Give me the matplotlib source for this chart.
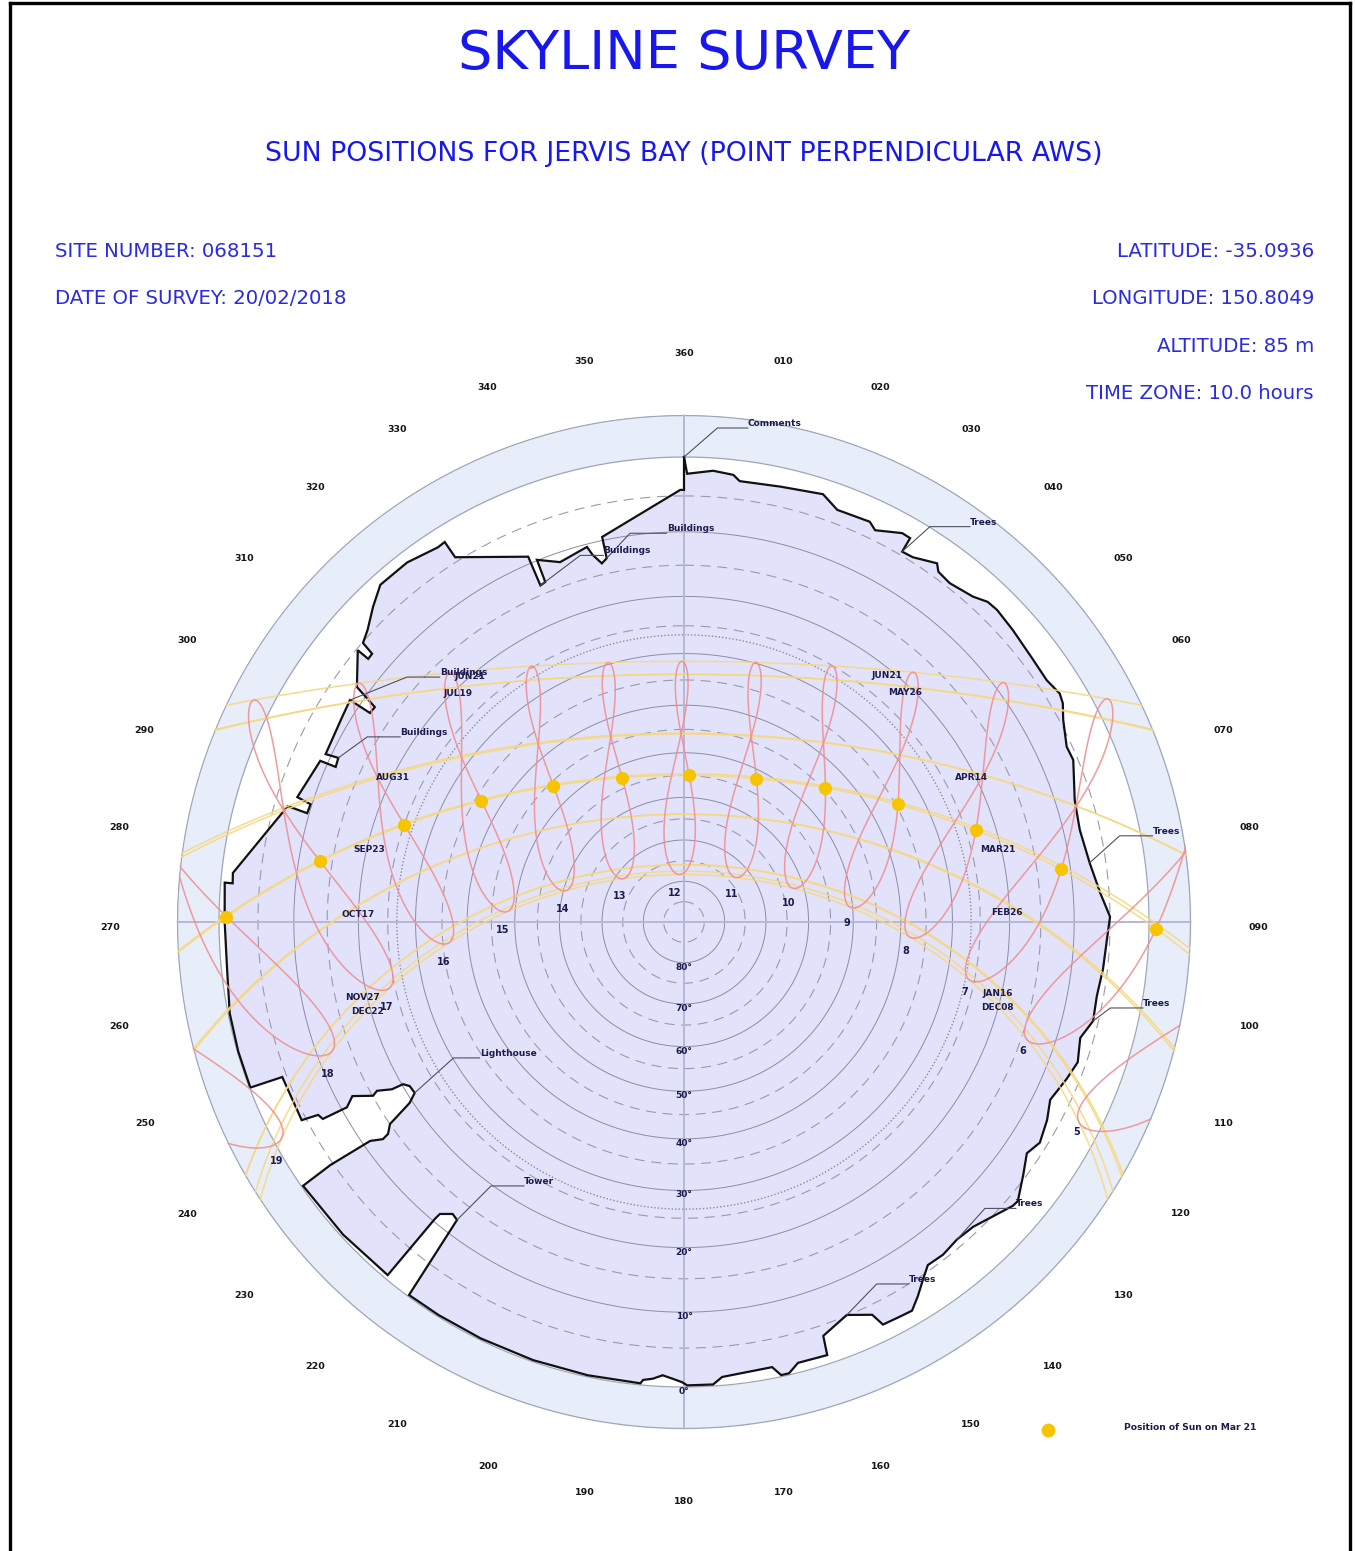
import numpy as np
import matplotlib
matplotlib.use("Agg")
import matplotlib.pyplot as plt
from matplotlib.lines import Line2D

# ---------------- data ----------------
SITE_NUMBER = "068151"
SURVEY_DATE = "20/02/2018"
LATITUDE = -35.0936
LONGITUDE = 150.8049
ALTITUDE_M = 85
TIME_ZONE = 10.0

ANALEMMA_HOURS = list(range(5, 20))
DOT_DAY = 80                      # Mar 21 (day of year)
DOT_HOURS = list(range(6, 19))

PATH_LABELS = ["JUN21", "JUL19", "AUG31", "SEP23", "OCT17", "NOV27", "DEC22",
               "MAY26", "APR14", "MAR21", "FEB26", "JAN16", "DEC08"]
PATH_DAYS = [172, 200, 243, 266, 290, 331, 356, 146, 104, 80, 57, 16, 342]

# skyline survey: azimuth (deg) / elevation (deg)
SKY_AZ = [0.0, 0.4, 3.7, 6.3, 7.2, 12.5, 18.0, 20.4, 24.9, 26.0, 29.3, 30.5, 30.5, 32.1,
          35.2, 36.0, 38.1, 41.6, 43.5, 45.1, 48.4, 53.1, 56.3, 58.7, 60.0, 61.9, 65.4,
          67.4, 72.7, 76.9, 81.7, 86.0, 89.3, 91.6, 96.4, 100.2, 103.6, 106.3, 109.6,
          112.3, 115.9, 118.6, 121.8, 124.0, 126.7, 129.9, 130.8, 136.5, 139.3, 142.1,
          144.6, 146.2, 148.0, 149.6, 151.3, 153.7, 154.4, 157.5, 161.4, 161.7, 165.5,
          166.9, 167.9, 168.8, 175.2, 176.4, 179.6, 180.25, 181.4, 182.7, 183.9, 185.1,
          185.4, 192.0, 199.0, 206.0, 212.0, 216.4, 217.3, 218.4, 219.9, 220.0, 220.0,
          227.5, 235.3, 235.5, 235.1, 234.2, 234.4, 235.5, 236.6, 237.6, 239.1, 240.0,
          240.2, 241.2, 240.8, 242.3, 241.2, 241.4, 242.2, 242.6, 248.9, 249.1, 253.8,
          258.6, 264.1, 270.1, 274.9, 274.9, 276.2, 286.3, 286.1, 287.5, 287.9, 293.9,
          294.0, 295.4, 295.1, 300.9, 303.6, 303.65, 304.8, 305.7, 309.8, 309.8, 310.7,
          311.0, 312.7, 315.4, 318.0, 322.4, 326.7, 327.8, 327.9, 336.9, 336.9, 337.8,
          337.9, 341.0, 345.5, 346.0, 347.1, 348.0, 348.0, 359.5, 360.0, 360.0]
SKY_EL = [0.0, 2.1, 1.6, 1.9, 2.6, 2.4, 1.9, 3.2, 3.0, 3.7, 2.4, 2.45, 4.5, 4.4,
          3.3, 4.1, 4.4, 3.8, 3.0, 2.9, 3.2, 3.6, 3.7, 3.2, 3.5, 4.5, 5.7,
          5.6, 7.3, 7.7, 7.2, 6.2, 5.0, 5.3, 5.6, 5.9, 5.7, 6.8, 6.1,
          6.7, 7.6, 6.7, 6.0, 6.7, 5.4, 3.8, 3.9, 5.8, 6.0, 5.6,
          5.7, 4.5, 3.0, 1.8, 1.9, 2.0, 3.75, 5.1, 3.6, 1.1, 1.2,
          0.2, 0.2, 1.4, 1.05, 0.2, 0.2, 0.6, 1.0, 1.4, 0.9, 0.65,
          0.2, 0.2, 0.2, 0.2, 0.2, 0.2, 12.3, 12.6, 11.4, 10.4, 0.5,
          0.3, 0.2, 4.6, 11.1, 12.8, 13.9, 15.0, 19.5, 21.1, 21.0, 20.2,
          18.2, 16.0, 15.1, 12.3, 10.8, 7.0, 6.7, 4.4, 4.4, 0.1, 0.1,
          0.2, 0.7, 0.7, 0.5, 1.5, 1.4, 6.8, 9.7, 9.8, 7.7, 8.9,
          11.3, 11.1, 9.2, 8.8, 8.45, 11.9, 12.0, 8.2, 5.2, 7.05, 7.0,
          5.1, 4.4, 2.8, 1.4, 1.4, 2.1, 2.0, 4.4, 9.0, 13.6, 13.4,
          9.9, 11.4, 10.4, 11.7, 13.3, 12.7, 9.5, 4.2, 4.2, 0.0]

OBSTRUCTION_NAMES = ["Comments", "Buildings", "Buildings", "Buildings", "Buildings",
                     "Trees", "Trees", "Trees", "Trees", "Trees", "Lighthouse", "Tower"]
OBSTRUCTION_AZ = [0.0, 348.0, 336.9, 303.6, 295.4, 30.5, 81.7, 103.6, 139.3, 157.5, 237.6, 217.3]
OBSTRUCTION_EL = [0.0, 12.7, 13.6, 8.45, 11.1, 4.5, 7.2, 5.7, 6.0, 5.1, 21.1, 12.3]

ELEV_SOLID = [0, 10, 20, 30, 40, 50, 60, 70, 80]
ELEV_DASHED = [5, 15, 25, 35, 45, 55, 65, 75, 85]
ELEV_DOTTED = [26.6]
ELEV_LABELS = ["0°", "10°", "20°", "30°", "40°", "50°", "60°", "70°", "80°"]
AZ_TICKS = list(range(0, 360, 10))
AZ_TICK_LABELS = ["360"] + [f"{a:03d}" for a in range(10, 360, 10)]

# ---------------- layout (pixel positions of text) ----------------
W, H = 1355, 1551
CX, CY = 684, 922
R_PX = 465.0
LEADER_OFFSETS = [(64, 29), (60, 25), (63, 30), (90, 23), (62, 21), (68, 25),
                  (63, 27), (50, 13), (59, 31), (62, 31), (65, 35), (67, 34)]
LEADER_ANGLES = [41, 47, 37, 22, 36, 42, 42, 37, 48, 46, 42, 45]
HOUR_TEXT = ["5", "6", "7", "8", "9", "10", "11", "12", "13", "14", "15", "16", "17", "18", "19"]
HOUR_POS = [(1077, 1132), (1023, 1051), (965, 992), (906, 951), (847, 923), (789, 903),
            (732, 894), (675, 893), (620, 896), (563, 909), (503, 930), (444, 962),
            (387, 1007), (328, 1074), (277, 1161)]
DATE_POS = [(470, 677), (458, 693), (393, 778), (369, 849), (358, 915), (363, 998),
            (367, 1011), (905, 692), (972, 778), (998, 849), (1007, 913), (998, 994),
            (997, 1007)]
JUN21_RIGHT = (887, 676)


def fxy(px, py):
    return px / W, 1 - py / H


def rproj(el):
    return np.tan(np.radians((90.0 - np.asarray(el, dtype=float)) / 2.0))


def sun_position(day, hour):
    g = 2 * np.pi / 365.0 * (day - 1 + (hour - 12) / 24.0)
    eqt = 229.18 * (0.000075 + 0.001868 * np.cos(g) - 0.032077 * np.sin(g)
                    - 0.014615 * np.cos(2 * g) - 0.040849 * np.sin(2 * g))
    dec = (0.006918 - 0.399912 * np.cos(g) + 0.070257 * np.sin(g)
           - 0.006758 * np.cos(2 * g) + 0.000907 * np.sin(2 * g)
           - 0.002697 * np.cos(3 * g) + 0.00148 * np.sin(3 * g))
    tst = hour * 60 + eqt + 4 * LONGITUDE - 60 * TIME_ZONE
    ha = np.radians(tst / 4.0 - 180.0)
    lat = np.radians(LATITUDE)
    sin_el = np.sin(lat) * np.sin(dec) + np.cos(lat) * np.cos(dec) * np.cos(ha)
    el = np.degrees(np.arcsin(np.clip(sin_el, -1, 1)))
    az = np.degrees(np.arctan2(np.sin(ha), np.cos(ha) * np.sin(lat) - np.tan(dec) * np.cos(lat))) + 180.0
    return np.radians(az % 360.0), el


RMAX = float(rproj(-5.0))

fig = plt.figure(figsize=(W / 100, H / 100), dpi=100)
fig.patch.set_facecolor("white")
rad_px = RMAX * R_PX
ax = fig.add_axes([(CX - rad_px) / W, (H - CY - rad_px) / H, 2 * rad_px / W, 2 * rad_px / H],
                  projection="polar")
ax.set_theta_zero_location("N")
ax.set_theta_direction(-1)
ax.axis("off")

th = np.linspace(0, 2 * np.pi, 721)

# outer ring (below horizon band)
ax.fill_between(th, float(rproj(0)), RMAX, color="#e7eef9", lw=0, zorder=0)
ax.plot(th, np.full_like(th, RMAX * 0.998), color="#a0a6b8", lw=0.9, zorder=1)
ax.plot(th, np.full_like(th, float(rproj(0))), color="#a0a6b8", lw=0.9, zorder=1)

# skyline fill
sky_t = np.radians(SKY_AZ)
sky_r = rproj(SKY_EL)
ax.fill(sky_t, sky_r, color="#e2e2fb", lw=0, zorder=1)

# elevation grid
for e in ELEV_SOLID[1:]:
    ax.plot(th, np.full_like(th, float(rproj(e))), color="#8c8ca4", lw=0.7, zorder=2)
for e in ELEV_DASHED:
    ax.plot(th, np.full_like(th, float(rproj(e))), color="#9a9aaa", lw=0.8,
            dashes=(9, 6), zorder=2)
for e in ELEV_DOTTED:
    ax.plot(th, np.full_like(th, float(rproj(e))), color="#8a8a9a", lw=1.0,
            linestyle=(0, (1, 1.5)), zorder=2)

# cross lines
ax.plot([0, np.pi], [RMAX, RMAX], color="#b6b6d6", lw=1.4, zorder=2)
ax.plot([np.pi / 2, 3 * np.pi / 2], [RMAX, RMAX], color="#b6b6d6", lw=1.4, zorder=2)

# skyline edge
ax.plot(np.append(sky_t, sky_t[0]), np.append(sky_r, sky_r[0]), color="#111111", lw=1.6,
        zorder=4, solid_joinstyle="miter")

# sun paths for dates
hrs = np.linspace(2.0, 22.0, 1201)
for d in PATH_DAYS:
    t, el = sun_position(d, hrs)
    r = rproj(np.where(el < -15, np.nan, el))
    ax.plot(t, r, color="#f6d880", lw=1.1, alpha=0.9, zorder=5)

# analemmas
days = np.append(np.arange(1, 366), 1)
for h in ANALEMMA_HOURS:
    t, el = sun_position(days, float(h))
    r = rproj(np.where(el < -15, np.nan, el))
    ax.plot(t, r, color="#ee9094", lw=1.1, alpha=0.9, zorder=5)

# Mar 21 sun positions
t, el = sun_position(DOT_DAY, np.array(DOT_HOURS, dtype=float))
ax.plot(t, rproj(el), linestyle="none", marker="o", ms=9.5, color="#f7c400",
        markeredgewidth=0, zorder=6)

# obstruction leaders
lab_col = "#1c1c4c"
for name, a, e, off, ang in zip(OBSTRUCTION_NAMES, OBSTRUCTION_AZ, OBSTRUCTION_EL,
                                LEADER_OFFSETS, LEADER_ANGLES):
    ax.annotate(name, xy=(np.radians(a), float(rproj(e))), xytext=off,
                textcoords="offset pixels", ha="left", va="bottom", fontsize=6.5,
                fontweight="bold", color=lab_col, zorder=7,
                arrowprops=dict(arrowstyle="-", color="#505060", lw=0.8,
                                connectionstyle=f"angle,angleA=0,angleB={ang},rad=0",
                                relpos=(0, 0), shrinkA=0, shrinkB=0, patchA=None))

# elevation labels
for e, s in zip(ELEV_SOLID, ELEV_LABELS):
    ax.text(np.pi, float(rproj(e)), s, ha="center", va="top", fontsize=6.5,
            fontweight="bold", color=lab_col, zorder=7)

# azimuth labels
for a, s in zip(AZ_TICKS, AZ_TICK_LABELS):
    ax.annotate(s, xy=(np.radians(a), 574 / R_PX), xytext=(0, -5),
                textcoords="offset pixels", ha="center", va="center", fontsize=6.8,
                fontweight="bold", color="#151515", annotation_clip=False)

ax.set_rlim(0, RMAX)
ax.set_autoscale_on(False)

# hour and date labels
for s, (px, py) in zip(HOUR_TEXT, HOUR_POS):
    fig.text(*fxy(px, py), s, ha="center", va="center", fontsize=7, fontweight="bold",
             color=lab_col)
for s, (px, py) in zip(PATH_LABELS, DATE_POS):
    fig.text(*fxy(px, py), s, ha="center", va="center", fontsize=6.5, fontweight="bold",
             color=lab_col)
fig.text(*fxy(*JUN21_RIGHT), "JUN21", ha="center", va="center", fontsize=6.5,
         fontweight="bold", color=lab_col)

# legend
fig.add_artist(Line2D([1048 / W], [1 - 1430 / H], marker="o", ms=10, color="#f7c400",
                      markeredgewidth=0, transform=fig.transFigure))
fig.text(*fxy(1190, 1428), "Position of Sun on Mar 21", ha="center", va="center",
         fontsize=6.6, fontweight="bold", color=lab_col)

# header texts
blue = "#1717ee"
info = "#2b2be0"
fig.text(*fxy(684, 69), "SKYLINE SURVEY", ha="center", va="baseline", fontsize=39, color=blue)
fig.text(*fxy(684, 161), "SUN POSITIONS FOR JERVIS BAY (POINT PERPENDICULAR AWS)",
         ha="center", va="baseline", fontsize=19.3, color=blue)
fig.text(*fxy(55, 257), f"SITE NUMBER: {SITE_NUMBER}", ha="left", va="baseline",
         fontsize=14.2, color=info)
fig.text(*fxy(55, 304), f"DATE OF SURVEY: {SURVEY_DATE}", ha="left", va="baseline",
         fontsize=14.2, color=info)
fig.text(*fxy(1314, 257), f"LATITUDE: {LATITUDE:.4f}", ha="right", va="baseline",
         fontsize=14.2, color=info)
fig.text(*fxy(1314, 304), f"LONGITUDE: {LONGITUDE:.4f}", ha="right", va="baseline",
         fontsize=14.2, color=info)
fig.text(*fxy(1314, 352), f"ALTITUDE: {ALTITUDE_M} m", ha="right", va="baseline",
         fontsize=14.2, color=info)
fig.text(*fxy(1314, 399), f"TIME ZONE: {TIME_ZONE:.1f} hours", ha="right", va="baseline",
         fontsize=14.2, color=info)

# page frame
for xs, ys in [([10, 10], [3, H]), ([1350, 1350], [3, H]), ([10, 1350], [3, 3])]:
    fig.add_artist(Line2D([x / W for x in xs], [1 - y / H for y in ys], color="black",
                          lw=2.4, transform=fig.transFigure))

fig.savefig("out.png", dpi=100, facecolor="white")
